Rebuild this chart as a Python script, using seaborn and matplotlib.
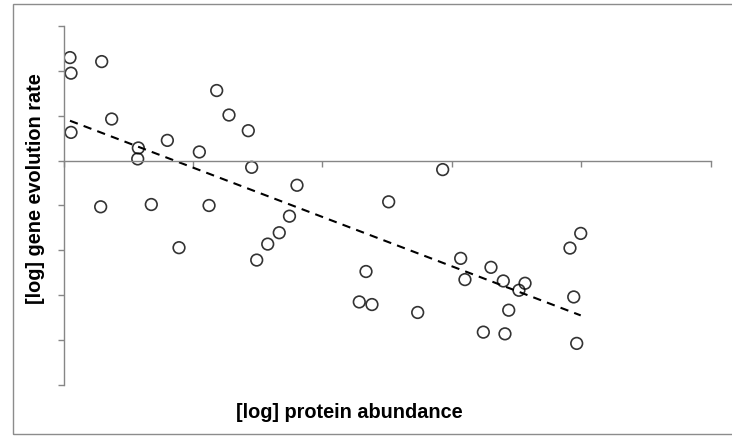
import matplotlib
matplotlib.use("Agg")
import matplotlib.pyplot as plt
import seaborn as sns
import pandas as pd
from matplotlib.patches import Rectangle

# Data (arbitrary log units)
protein_abundance = [
    0.050, 0.058, 0.295, 0.372, 0.058, 0.578, 0.573, 0.802, 1.049, 1.183,
    1.278, 1.427, 1.453, 1.803, 0.287, 0.678, 1.124, 1.745, 2.928, 2.511,
    0.892, 1.492, 1.577, 1.666, 2.336, 2.284, 2.382, 2.735, 3.067, 3.100,
    3.301, 3.396, 3.564, 3.517, 3.438, 3.242, 3.409, 3.911, 3.994, 3.940,
    3.963,
]
gene_evolution_rate = [
    2.296, 1.949, 2.207, 0.927, 0.629, 0.282, 0.038, 0.451, 0.193, 1.562,
    1.016, 0.667, -0.149, -0.549, -1.029, -0.978, -1.000, -1.238, -0.200, -0.918,
    -1.940, -2.216, -1.860, -1.607, -2.471, -3.149, -3.207, -3.384, -2.178, -2.651,
    -2.378, -2.682, -2.733, -2.889, -3.333, -3.822, -3.860, -1.949, -1.622, -3.038,
    -4.073,
]
x_label = "[log] protein abundance"
y_label = "[log] gene evolution rate"
x_ticks = [0, 1, 2, 3, 4, 5]
y_ticks = [-5, -4, -3, -2, -1, 0, 1, 2, 3]

df = pd.DataFrame({"x": protein_abundance, "y": gene_evolution_rate})

sns.set_theme(style="white")
plt.rcParams["font.family"] = ["Liberation Sans", "DejaVu Sans"]

W, H = 732, 436
fig = plt.figure(figsize=(W / 100, H / 100), dpi=100)
fig.patch.set_facecolor("white")

# outer border (Excel-style chart area)
fig.patches.append(Rectangle((13 / W, 1 - 434 / H), (W + 5 - 13) / W, (434 - 4.5) / H,
                             transform=fig.transFigure, fill=False,
                             edgecolor="#8c8c8c", linewidth=1.0))

left, right, top, bottom = 63.5, 711, 26, 385
ax = fig.add_axes([left / W, 1 - bottom / H, (right - left) / W, (bottom - top) / H])
ax.set_facecolor("none")

sns.regplot(data=df, x="x", y="y", ax=ax, ci=None,
            scatter_kws=dict(s=70, facecolors="none", edgecolors="black", linewidths=1.2),
            line_kws=dict(color="black", linestyle=(0, (4, 3)), linewidth=1.5))

ax.set_xlim(x_ticks[0], x_ticks[-1])
ax.set_ylim(y_ticks[0], y_ticks[-1])
ax.set_xticks(x_ticks)
ax.set_yticks(y_ticks)
ax.set_xticklabels([])
ax.set_yticklabels([])
ax.set_xlabel("")
ax.set_ylabel("")

axis_col = "#868686"
for s in ["top", "right"]:
    ax.spines[s].set_visible(False)
ax.spines["left"].set_color(axis_col)
ax.spines["bottom"].set_color(axis_col)
ax.spines["left"].set_linewidth(1.0)
ax.spines["bottom"].set_linewidth(1.0)
ax.spines["bottom"].set_position(("data", 0))
ax.tick_params(axis="x", direction="out", length=4, width=1.0, color=axis_col, bottom=True)
ax.tick_params(axis="y", direction="out", length=4.5, width=1.0, color=axis_col, left=True)

fig.text(349 / W, 1 - 412 / H, x_label, ha="center", va="center",
         fontsize=14.3, fontweight="bold", color="black")
fig.text(36 / W, 1 - 189 / H, y_label, ha="center", va="center", rotation=90,
         fontsize=14.3, fontweight="bold", color="black")

fig.savefig("out.png", dpi=100)
